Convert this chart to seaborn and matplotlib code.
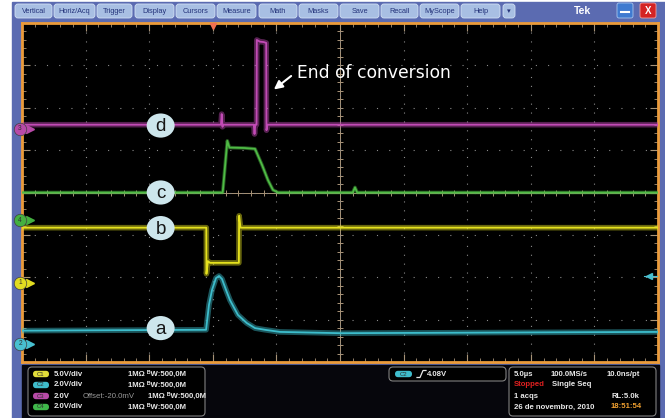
import numpy as np
import matplotlib
matplotlib.use("Agg")
import matplotlib.pyplot as plt
from matplotlib.patches import Rectangle, FancyBboxPatch, Ellipse
import seaborn as sns

# time in microseconds (5 us/div, trigger at 0), level in screen divisions
ch_d_t = [-15, 0.64, 0.70, 0.76, 0.82, 3.22, 3.28, 3.34, 3.44, 3.46, 3.70, 4.00, 4.20, 4.22, 4.30, 35]
ch_d_v = [1.60, 1.60, 1.85, 1.55, 1.60, 1.60, 1.38, 1.60, 1.60, 3.60, 3.56, 3.55, 3.53, 1.47, 1.60, 1.60]

ch_c_t = [-15, 0.78, 1.14, 1.31, 2.50, 3.32, 3.87, 4.34, 4.73, 5.13, 11.0, 11.18, 11.35, 35]
ch_c_v = [0.0, 0.0, 1.22, 1.06, 1.05, 1.03, 0.65, 0.29, 0.06, 0.0, 0.0, 0.12, 0.0, 0.0]

ch_b_t = [-15, -0.51, -0.50, -0.38, -0.22, 2.05, 2.07, 2.18, 35]
ch_b_v = [-0.83, -0.83, -1.92, -1.62, -1.66, -1.66, -0.55, -0.83, -0.83]

ch_a_t = [-15, -0.53, -0.30, -0.06, 0.25, 0.49, 0.72, 1.04, 1.35, 1.98, 2.67, 3.32, 4.10, 5.28, 10.0, 35]
ch_a_v = [-3.26, -3.24, -2.65, -2.30, -2.02, -1.97, -2.04, -2.30, -2.54, -2.89, -3.08, -3.20, -3.24, -3.29, -3.32, -3.29]

trace_colors = ["#c24bb6", "#4fbb45", "#e6e21e", "#3dbdcc"]
trace_widths = [4.0, 2.6, 4.0, 4.0]   # apparent noise band
trace_labels = ["d", "c", "b", "a"]
label_t = -4.1
label_v = [1.58, 0.0, -0.84, -3.20]

# channel ground markers on the left edge
ref_names = ["3", "4", "1", "2"]
ref_levels = [1.50, -0.65, -2.13, -3.57]
ref_colors = ["#b84aa8", "#44b040", "#e2dc20", "#48c0d0"]
trig_level = -1.96

menu_items = ["Vertical", "Horiz/Acq", "Trigger", "Display", "Cursors", "Measure",
              "Math", "Masks", "Save", "Recall", "MyScope", "Help", "\u25be"]
menu_x0 = [15, 54, 97, 135, 176, 217, 259, 299, 340, 381, 420, 461, 503]
menu_x1 = [52, 95, 132, 174, 215, 256, 297, 338, 379, 418, 459, 500, 515]

plt.rcParams["font.family"] = ["Liberation Sans", "DejaVu Sans"]

fig = plt.figure(figsize=(6.65, 4.18), dpi=100, facecolor="white")

# ---- instrument chrome, in pixel coordinates ----
ui = fig.add_axes([0, 0, 1, 1], zorder=0)
ui.set_xlim(0, 665)
ui.set_ylim(418, 0)
ui.axis("off")
ui.add_patch(Rectangle((12, 2), 653, 416, color="#5b6bb1"))
ui.add_patch(Rectangle((22, 365), 637, 53, color="#06060c"))

for name, x0, x1 in zip(menu_items, menu_x0, menu_x1):
    ui.add_patch(FancyBboxPatch((x0, 4), x1 - x0, 14, boxstyle="round,pad=0,rounding_size=3",
                                fc="#a8bfe3", ec="#d2e0f4", lw=0.6))
    ui.text((x0 + x1) / 2, 11.5, name, ha="center", va="center", fontsize=5.3, color="#24337a")
ui.text(583, 11, "Tek", ha="center", va="center", fontsize=7.5, fontweight="bold", color="white")
ui.add_patch(FancyBboxPatch((617, 3), 16, 15, boxstyle="round,pad=0,rounding_size=2",
                            fc="#3f7ad0", ec="#a8c4ec", lw=0.6))
ui.plot([621, 629], [12, 12], color="white", lw=1.5)
ui.add_patch(FancyBboxPatch((640, 3), 16, 15, boxstyle="round,pad=0,rounding_size=2",
                            fc="#d42424", ec="#f0a0a0", lw=0.6))
ui.text(648, 11, "X", ha="center", va="center", fontsize=7, fontweight="bold", color="white")

# bottom readout boxes
for x0, y0, w, h in [(28, 367, 177, 49), (389, 367, 117, 14), (509, 367, 147, 49)]:
    ui.add_patch(FancyBboxPatch((x0, y0), w, h, boxstyle="round,pad=0,rounding_size=4",
                                fc="black", ec="#808080", lw=0.8))

badge_cols = ["#e0dc3a", "#3fbccb", "#b84aa8", "#3fb84a"]
rows_y = [374, 385, 396, 407]
left_text = ["5.0V/div", "2.0V/div", "2.0V", "2.0V/div"]
bw = "1M\u03a9 \u1d2eW:500,0M"
txt = dict(fontsize=5.6, fontweight="bold", color="#e8e8e8", va="center")
for i, (y, col, s) in enumerate(zip(rows_y, badge_cols, left_text)):
    ui.add_patch(FancyBboxPatch((33, y - 3.2), 16, 6.4, boxstyle="round,pad=0,rounding_size=3.2",
                                fc=col, ec="none"))
    ui.text(41, y, f"C{i + 1}", ha="center", fontsize=4.3, color="#303030", va="center")
    ui.text(54, y, s, **txt)
    ui.text(128 if i != 2 else 148, y, bw, **txt)
ui.text(83, rows_y[2], "Offset:-20.0mV", fontsize=5.6, color="#9a9a9a", va="center")

ui.add_patch(FancyBboxPatch((395, 370.8), 17, 6.4, boxstyle="round,pad=0,rounding_size=3.2",
                            fc=badge_cols[1], ec="none"))
ui.text(403.5, 374, "C2", ha="center", fontsize=4.3, color="#303030", va="center")
ui.plot([417, 420, 423, 426], [377.5, 377.5, 370.5, 370.5], color="#e8e8e8", lw=0.9)
ui.text(427, 374, "4.08V", **txt)

ui.text(514, 374, "5.0\u00b5s", **txt)
ui.text(551, 374, "100.0MS/s", **txt)
ui.text(607, 374, "10.0ns/pt", **txt)
ui.text(514, 385, "Stopped", fontsize=5.6, fontweight="bold", color="#e02020", va="center")
ui.text(552, 385, "Single Seq", **txt)
ui.text(514, 396, "1 acqs", **txt)
ui.text(611, 396, "RL:5.0k", **txt)
ui.text(514, 407, "26 de novembro, 2010", **txt)
ui.text(611, 407, "18:51:54", fontsize=5.6, fontweight="bold", color="#f0a030", va="center")

# ---- graticule ----
ax = fig.add_axes([22 / 665, 1 - 362 / 418, 636 / 665, 339 / 418], zorder=1)
ax.set_facecolor("black")
tan = "#a89378"

ax.set_xticks(np.arange(-15, 35.1, 5))
ax.set_xticks(np.arange(-15, 35.1, 1), minor=True)
ax.set_yticks(np.arange(-4, 4.1, 1))
ax.set_yticks(np.arange(-4, 4.1, 0.2), minor=True)
ax.tick_params(which="both", direction="in", top=True, right=True, color=tan,
               labelbottom=False, labelleft=False)
ax.tick_params(which="major", length=6, width=0.8)
ax.tick_params(which="minor", length=3, width=0.6)
ax.xaxis.grid(True, which="major", color="#8a8a8a", linestyle=(0, (1, 7)), lw=0.8)
ax.yaxis.grid(True, which="major", color="#8a8a8a", linestyle=(0, (1, 10)), lw=0.8)
for sp in ax.spines.values():
    sp.set_color("#eb9b3a")
    sp.set_linewidth(2)

ax.axvline(10, color=tan, lw=0.7, zorder=1)
ax.axhline(0, color=tan, lw=0.7, zorder=1)
ax.plot(np.arange(-15, 35.1, 1), np.zeros(51), ls="none", marker="|", ms=5, mew=0.7, color=tan, zorder=1)
ax.plot(np.full(41, 10.0), np.arange(-4, 4.01, 0.2), ls="none", marker="_", ms=5, mew=0.7, color=tan, zorder=1)

traces = [(ch_d_t, ch_d_v), (ch_c_t, ch_c_v), (ch_b_t, ch_b_v), (ch_a_t, ch_a_v)]
for (t, v), col, w in zip(traces, trace_colors, trace_widths):
    sns.lineplot(x=t, y=v, ax=ax, color=col, lw=w, alpha=0.45, sort=False, estimator=None, zorder=3)
    sns.lineplot(x=t, y=v, ax=ax, color=col, lw=1.3, sort=False, estimator=None, zorder=4)

for lab, lv in zip(trace_labels, label_v):
    ax.add_patch(Ellipse((label_t, lv), 2.2, 0.57, fc="#cde6ec", ec="none", zorder=6))
    ax.text(label_t, lv - 0.03, lab, ha="center", va="center", fontsize=13.5, color="#151515", zorder=7)

ax.annotate("", xy=(4.63, 2.39), xytext=(6.33, 2.79),
            arrowprops=dict(arrowstyle="-|>,head_length=0.5,head_width=0.25", color="white", lw=1.5))
ax.text(6.62, 2.83, "End of conversion", color="white", fontsize=12.3, va="center", ha="left",
        family="DejaVu Sans")

# channel ground / trigger markers
for name, lv, col in zip(ref_names, ref_levels, ref_colors):
    ax.plot([-14.4], [lv], marker=">", ms=5.5, color=col, clip_on=False, zorder=8)
    ax.plot([-15.15], [lv], marker="o", ms=9, color=col, mec="#404040", mew=0.5, clip_on=False, zorder=9)
    ax.text(-15.15, lv, name, ha="center", va="center", fontsize=4.8, color="#303030", zorder=10)
ax.plot([34.3], [trig_level], marker="<", ms=4, color="#48c0d0", zorder=8)
ax.plot([33.9, 35], [trig_level, trig_level], color="#48c0d0", lw=0.8, zorder=8)
ax.plot([0], [3.93], marker="v", ms=5, color="#f07050", clip_on=False, zorder=8)

ax.set_xlim(-15, 35)
ax.set_ylim(-4, 4)
ax.set_xlabel("")
ax.set_ylabel("")

fig.savefig("out.png", dpi=100, facecolor=fig.get_facecolor())
